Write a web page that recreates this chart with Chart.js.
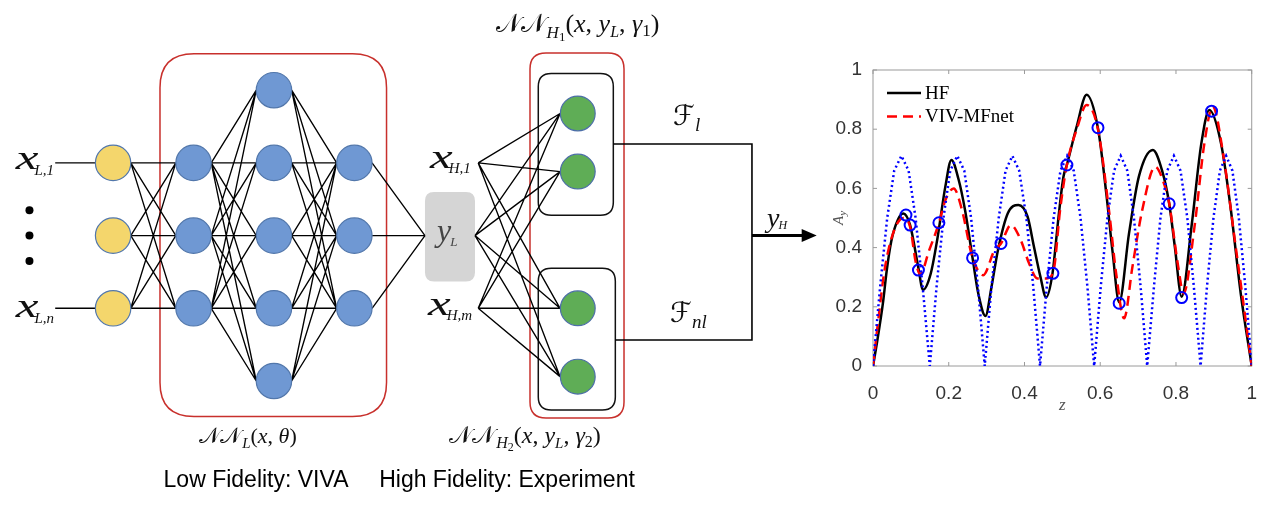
<!DOCTYPE html>
<html>
<head>
<meta charset="utf-8">
<script src="https://cdn.jsdelivr.net/npm/chart.js@4.4.1/dist/chart.umd.min.js"></script>
<style>
  html, body { margin: 0; padding: 0; background: #fff; }
  #wrap { position: relative; width: 1265px; height: 509px; overflow: hidden; }
  #net { position: absolute; left: 0; top: 0; }
  #amp { position: absolute; left: 820px; top: 0; }
</style>
</head>
<body>
<div id="wrap">
  <canvas id="net" width="820" height="509"></canvas>
  <canvas id="amp" width="445" height="509"></canvas>
</div>
<script>
// --- amplitude chart data ---
const zTicks = [0, 0.2, 0.4, 0.6, 0.8, 1];
const aTicks = [0, 0.2, 0.4, 0.6, 0.8, 1];

// HF (experiment)
const hfZ = [0, 0.010, 0.027, 0.036, 0.048, 0.066, 0.080, 0.098, 0.120, 0.132,
  0.152, 0.170, 0.191, 0.207, 0.226, 0.243, 0.263, 0.278, 0.297, 0.313,
  0.330, 0.356, 0.384, 0.408, 0.425, 0.442, 0.457, 0.474, 0.490, 0.503,
  0.512, 0.538, 0.564, 0.594, 0.616, 0.633, 0.650, 0.676, 0.702, 0.739,
  0.763, 0.782, 0.797, 0.815, 0.841, 0.867, 0.888, 0.919, 0.945, 0.971, 1.000];
const hfA = [0, 0.075, 0.22, 0.32, 0.42, 0.495, 0.515, 0.476, 0.33, 0.257,
  0.31, 0.43, 0.606, 0.696, 0.63, 0.527, 0.364, 0.245, 0.169, 0.268,
  0.392, 0.516, 0.544, 0.505, 0.403, 0.302, 0.232, 0.313, 0.505, 0.64,
  0.68, 0.81, 0.916, 0.803, 0.583, 0.381, 0.215, 0.448, 0.64, 0.73,
  0.662, 0.55, 0.403, 0.234, 0.471, 0.752, 0.865, 0.752, 0.527, 0.245, 0];

// VIV-MFnet prediction
const mfZ = [0, 0.014, 0.030, 0.053, 0.080, 0.098, 0.113, 0.125, 0.148, 0.174,
  0.191, 0.213, 0.235, 0.262, 0.291, 0.321, 0.338, 0.364, 0.390, 0.412,
  0.434, 0.459, 0.477, 0.494, 0.512, 0.538, 0.564, 0.594, 0.624, 0.642,
  0.663, 0.685, 0.711, 0.745, 0.771, 0.782, 0.806, 0.820, 0.849, 0.875,
  0.897, 0.927, 0.953, 0.984, 1.000];
const mfA = [0, 0.155, 0.32, 0.448, 0.50, 0.47, 0.35, 0.31, 0.39, 0.482,
  0.56, 0.60, 0.527, 0.37, 0.307, 0.392, 0.414, 0.476, 0.426, 0.347,
  0.296, 0.296, 0.324, 0.527, 0.68, 0.80, 0.882, 0.80, 0.516, 0.313,
  0.161, 0.335, 0.527, 0.673, 0.606, 0.55, 0.335, 0.245, 0.471, 0.752,
  0.876, 0.696, 0.448, 0.155, 0];

// low fidelity (VIVA) dotted curve
const lfZ = [0, 0.019, 0.0375, 0.056, 0.075, 0.094, 0.1125, 0.131, 0.150,
  0.168, 0.186, 0.204, 0.2225, 0.241, 0.259, 0.277, 0.295,
  0.313, 0.332, 0.350, 0.368, 0.386, 0.405, 0.423, 0.441,
  0.459, 0.477, 0.495, 0.5125, 0.530, 0.548, 0.566, 0.584,
  0.6015, 0.619, 0.6365, 0.654, 0.6715, 0.689, 0.7065, 0.724,
  0.742, 0.759, 0.777, 0.7945, 0.812, 0.830, 0.847, 0.865,
  0.882, 0.899, 0.916, 0.9325, 0.949, 0.966, 0.983, 1.000];
const lfA = [0, 0.27, 0.50, 0.66, 0.71, 0.66, 0.50, 0.27, 0,
  0.27, 0.50, 0.66, 0.71, 0.66, 0.50, 0.27, 0,
  0.27, 0.50, 0.66, 0.71, 0.66, 0.50, 0.27, 0,
  0.27, 0.50, 0.66, 0.71, 0.66, 0.50, 0.27, 0,
  0.27, 0.50, 0.66, 0.71, 0.66, 0.50, 0.27, 0,
  0.27, 0.50, 0.66, 0.71, 0.66, 0.50, 0.27, 0,
  0.27, 0.50, 0.66, 0.71, 0.66, 0.50, 0.27, 0];

// measurement points (circles)
const markZ = [0.087, 0.098, 0.120, 0.174, 0.263, 0.338, 0.475, 0.512, 0.594, 0.650, 0.782, 0.815, 0.894];
const markA = [0.510, 0.476, 0.324, 0.484, 0.365, 0.414, 0.313, 0.679, 0.805, 0.212, 0.548, 0.231, 0.861];

// --- network diagram structure (column = layer, row = node slot) ---
const lowLayers = [
  { col: 0, rows: [-1, 0, 1], fill: '#f4d66c' },
  { col: 1, rows: [-1, 0, 1], fill: '#6f98d3' },
  { col: 2, rows: [-2, -1, 0, 1, 2], fill: '#6f98d3' },
  { col: 3, rows: [-1, 0, 1], fill: '#6f98d3' }
];
const hfInputRows = [-1, 0, 1];
const hfNodeRows = [-1.68, -0.88, 1.0, 1.94];
const dotRows = [-0.35, 0, 0.35];

// placement of the diagram pieces, in the same col/row units
const net = {
  inputStart: -0.72, dotCol: -1.04, half: 0.22,
  yLIn: 3.878, hfIn: 4.54, yLOut: 4.5, hfCol: 5.778,
  lowBox: [0.583, -2.5, 3.40, 2.49],
  yLBox: [3.878, -0.60, 4.5, 0.63],
  hfBox: [5.184, -2.51, 6.353, 2.51],
  topBox: [5.287, -2.23, 6.22, -0.28],
  botBox: [5.287, 0.45, 6.245, 2.40],
  fRows: [-1.26, 1.436], joinCol: 7.944, arrowTip: 8.749
};

const SERIF = '"Liberation Serif", "DejaVu Serif", serif';
const MATH = '"DejaVu Serif", "DejaVu Sans", serif';
const SANS = '"Liberation Sans", Arial, sans-serif';

function pairs(xs, ys) {
  return xs.map((x, i) => ({ x: x, y: ys[i] }));
}

const GAP = { x: null, y: null };

// fully connected edges between two sets of points
function connect(from, to, out) {
  from.forEach(a => to.forEach(b => { out.push(a, b, GAP); }));
  return out;
}

function roundRect(ctx, x0, y0, x1, y1, r) {
  ctx.beginPath();
  ctx.moveTo(x0 + r, y0);
  ctx.lineTo(x1 - r, y0);
  ctx.quadraticCurveTo(x1, y0, x1, y0 + r);
  ctx.lineTo(x1, y1 - r);
  ctx.quadraticCurveTo(x1, y1, x1 - r, y1);
  ctx.lineTo(x0 + r, y1);
  ctx.quadraticCurveTo(x0, y1, x0, y1 - r);
  ctx.lineTo(x0, y0 + r);
  ctx.quadraticCurveTo(x0, y0, x0 + r, y0);
  ctx.closePath();
}

// text made of pieces (for sub-scripts)
function drawRich(ctx, x, y, parts, align) {
  let total = 0;
  const ws = parts.map(p => {
    ctx.font = p.f;
    const w = ctx.measureText(p.t).width * (p.sx || 1) + (p.kern || 0);
    total += w;
    return w;
  });
  let cx = align === 'center' ? x - total / 2 : align === 'right' ? x - total : x;
  ctx.textAlign = 'left';
  ctx.textBaseline = 'alphabetic';
  parts.forEach((p, i) => {
    ctx.font = p.f;
    ctx.save();
    ctx.translate(cx, y + (p.dy || 0));
    ctx.scale(p.sx || 1, 1);
    ctx.fillText(p.t, 0, 0);
    ctx.restore();
    cx += ws[i];
  });
}

// ---------- diagram ----------
const h = net.half;
const edges = [];
for (let i = 0; i < lowLayers.length - 1; i++) {
  const a = lowLayers[i].rows.map(r => ({ x: lowLayers[i].col + h, y: r }));
  const b = lowLayers[i + 1].rows.map(r => ({ x: lowLayers[i + 1].col - h, y: r }));
  connect(a, b, edges);
}
connect(lowLayers[3].rows.map(r => ({ x: 3 + h, y: r })), [{ x: net.yLIn, y: 0 }], edges);
[-1, 1].forEach(r => edges.push({ x: net.inputStart, y: r }, { x: -h, y: r }, GAP));
connect(hfInputRows.map(r => ({ x: r === 0 ? net.yLOut : net.hfIn, y: r })),
  hfNodeRows.map(r => ({ x: net.hfCol - h, y: r })), edges);

const connector = [
  { x: net.topBox[2], y: net.fRows[0] }, { x: net.joinCol, y: net.fRows[0] },
  { x: net.joinCol, y: net.fRows[1] }, { x: net.botBox[2], y: net.fRows[1] }
];

const nodeSets = lowLayers.map(l => ({
  data: l.rows.map(r => ({ x: l.col, y: r })),
  pointRadius: 17.7, pointBackgroundColor: l.fill,
  pointBorderColor: '#5277ab', pointBorderWidth: 1.2, order: 0
}));
nodeSets.push({
  data: hfNodeRows.map(r => ({ x: net.hfCol, y: r })),
  pointRadius: 17.4, pointBackgroundColor: '#5fad56',
  pointBorderColor: '#4d6fa8', pointBorderWidth: 1.2, order: 0
});
nodeSets.push({
  data: dotRows.map(r => ({ x: net.dotCol, y: r })),
  pointRadius: 4, pointBackgroundColor: '#000', pointBorderWidth: 0, order: 0
});

const netDecor = {
  id: 'netDecor',
  beforeDatasetsDraw(chart) {
    const { ctx, scales: { x, y } } = chart;
    const box = (b, r) => roundRect(ctx, x.getPixelForValue(b[0]), y.getPixelForValue(b[1]),
      x.getPixelForValue(b[2]), y.getPixelForValue(b[3]), r);
    ctx.save();
    box(net.yLBox, 9);
    ctx.fillStyle = '#d5d5d5';
    ctx.fill();
    ctx.strokeStyle = '#c8302c';
    ctx.lineWidth = 1.5;
    box(net.lowBox, 34); ctx.stroke();
    box(net.hfBox, 16); ctx.stroke();
    ctx.strokeStyle = '#111';
    box(net.topBox, 13); ctx.stroke();
    box(net.botBox, 13); ctx.stroke();
    ctx.restore();
  },
  afterDatasetsDraw(chart) {
    const { ctx, scales: { x, y } } = chart;
    const px = c => x.getPixelForValue(c);
    const py = r => y.getPixelForValue(r);
    ctx.save();
    // output arrow
    const ax0 = px(net.joinCol), ax1 = px(net.arrowTip), ay = py(0);
    ctx.strokeStyle = '#000';
    ctx.lineWidth = 3;
    ctx.beginPath();
    ctx.moveTo(ax0, ay);
    ctx.lineTo(ax1 - 10, ay);
    ctx.stroke();
    ctx.fillStyle = '#000';
    ctx.beginPath();
    ctx.moveTo(ax1, ay);
    ctx.lineTo(ax1 - 15, ay - 6.5);
    ctx.lineTo(ax1 - 15, ay + 6.5);
    ctx.closePath();
    ctx.fill();

    const xi = s => 'italic ' + s + 'px ' + SERIF;
    const rm = s => s + 'px ' + SERIF;
    const bigX = { t: 'x', f: xi(33), sx: 1.55, kern: -4 };
    ctx.fillStyle = '#111';
    drawRich(ctx, px(-0.735), py(-0.916), [bigX, { t: 'L,1', f: xi(15), dy: 6 }], 'right');
    drawRich(ctx, px(-0.735), py(1.12), [bigX, { t: 'L,n', f: xi(15), dy: 6 }], 'right');
    drawRich(ctx, px(3.94), py(-0.93), [bigX, { t: 'H,1', f: xi(15), dy: 5 }], 'left');
    drawRich(ctx, px(3.915), py(1.092), [bigX, { t: 'H,m', f: xi(15), dy: 5 }], 'left');
    ctx.fillStyle = '#444';
    drawRich(ctx, px(4.028), py(0.074), [{ t: 'y', f: xi(32), kern: -1 }, { t: 'L', f: xi(13), dy: 5 }], 'left');
    ctx.fillStyle = '#111';
    drawRich(ctx, px(8.131), py(-0.118), [{ t: 'y', f: xi(28), kern: -1 }, { t: 'H', f: xi(12), dy: 2 }], 'left');
    drawRich(ctx, px(6.962), py(-1.521), [{ t: 'ℱ', f: '28px ' + MATH }, { t: 'l', f: xi(19), dy: 6 }], 'left');
    drawRich(ctx, px(6.925), py(1.188), [{ t: 'ℱ', f: '28px ' + MATH }, { t: 'nl', f: xi(19), dy: 6 }], 'left');

    const nn = s => ({ t: '𝒩𝒩', f: s + 'px ' + MATH, kern: 1 });
    drawRich(ctx, px(5.775), py(-2.801), [nn(26), { t: 'H', f: xi(17), dy: 6 }, { t: '1', f: rm(13), dy: 9 },
      { t: '(', f: rm(26) }, { t: 'x', f: xi(26) }, { t: ', ', f: rm(26) }, { t: 'y', f: xi(26) },
      { t: 'L', f: xi(16), dy: 5 }, { t: ', ', f: rm(26) }, { t: 'γ', f: xi(26) }, { t: '1', f: rm(17), dy: 4 },
      { t: ')', f: rm(26) }], 'center');
    drawRich(ctx, px(1.677), py(2.853), [nn(22), { t: 'L', f: xi(15), dy: 5 },
      { t: '(', f: rm(22) }, { t: 'x', f: xi(22) }, { t: ', ', f: rm(22) }, { t: 'θ', f: xi(22) },
      { t: ')', f: rm(22) }], 'center');
    drawRich(ctx, px(5.122), py(2.853), [nn(24), { t: 'H', f: xi(16), dy: 5 }, { t: '2', f: rm(12), dy: 8 },
      { t: '(', f: rm(24) }, { t: 'x', f: xi(24) }, { t: ', ', f: rm(24) }, { t: 'y', f: xi(24) },
      { t: 'L', f: xi(15), dy: 5 }, { t: ', ', f: rm(24) }, { t: 'γ', f: xi(24) }, { t: '2', f: rm(16), dy: 4 },
      { t: ')', f: rm(24) }], 'center');
    ctx.fillStyle = '#000';
    drawRich(ctx, px(1.777), py(3.458), [{ t: 'Low Fidelity: VIVA', f: '23px ' + SANS }], 'center');
    drawRich(ctx, px(4.898), py(3.458), [{ t: 'High Fidelity: Experiment', f: '23px ' + SANS }], 'center');
    ctx.restore();
  }
};

new Chart(document.getElementById('net'), {
  type: 'scatter',
  data: {
    datasets: [
      { data: edges, showLine: true, spanGaps: false, borderColor: '#000', borderWidth: 1.35, pointRadius: 0, order: 10 },
      { data: connector, showLine: true, borderColor: '#000', borderWidth: 1.6, pointRadius: 0, order: 9 }
    ].concat(nodeSets)
  },
  options: {
    responsive: false,
    animation: false,
    events: [],
    layout: { padding: 0, autoPadding: false },
    plugins: { legend: { display: false }, tooltip: { enabled: false } },
    scales: {
      x: { type: 'linear', display: false, min: -1.4064, max: 8.790 },
      y: { type: 'linear', display: false, min: -3.2407, max: 3.7607, reverse: true }
    }
  },
  plugins: [netDecor]
});

// ---------- amplitude chart ----------
const axisBox = {
  id: 'axisBox',
  beforeDatasetsDraw(chart) {
    const { ctx, chartArea: a, scales: { x, y } } = chart;
    ctx.save();
    ctx.strokeStyle = '#9a9a9a';
    ctx.lineWidth = 1;
    ctx.strokeRect(a.left, a.top, a.right - a.left, a.bottom - a.top);
    ctx.beginPath();
    zTicks.forEach(v => {
      const p = x.getPixelForValue(v);
      ctx.moveTo(p, a.bottom); ctx.lineTo(p, a.bottom - 4);
      ctx.moveTo(p, a.top); ctx.lineTo(p, a.top + 4);
    });
    aTicks.forEach(v => {
      const p = y.getPixelForValue(v);
      ctx.moveTo(a.left, p); ctx.lineTo(a.left + 4, p);
      ctx.moveTo(a.right, p); ctx.lineTo(a.right - 4, p);
    });
    ctx.stroke();
    ctx.restore();
  },
  afterDatasetsDraw(chart) {
    const { ctx, chartArea: a } = chart;
    ctx.save();
    // legend (top-left, inside the axes)
    const items = chart.data.datasets.filter(d => d.label === 'HF' || d.label === 'VIV-MFnet');
    items.forEach((d, i) => {
      const ly = a.top + 23 + i * 23.5;
      ctx.strokeStyle = d.borderColor;
      ctx.lineWidth = d.borderWidth;
      ctx.setLineDash(d.borderDash || []);
      ctx.beginPath();
      ctx.moveTo(a.left + 14, ly);
      ctx.lineTo(a.left + 48, ly);
      ctx.stroke();
      ctx.setLineDash([]);
      ctx.fillStyle = '#000';
      ctx.font = '19px ' + SERIF;
      ctx.textAlign = 'left';
      ctx.textBaseline = 'middle';
      ctx.fillText(d.label, a.left + 52, ly + 1);
    });
    // axis titles
    ctx.fillStyle = '#555';
    ctx.textAlign = 'center';
    ctx.textBaseline = 'middle';
    ctx.font = 'italic 17px ' + SERIF;
    ctx.fillText('z', (a.left + a.right) / 2, a.bottom + 40);
    ctx.translate(a.left - 35, (a.top + a.bottom) / 2);
    ctx.rotate(-Math.PI / 2);
    drawRich(ctx, 0, 5, [{ t: 'A', f: 'italic 15px ' + SERIF }, { t: 'y', f: 'italic 11px ' + SERIF, dy: 3 }], 'center');
    ctx.restore();
  }
};

new Chart(document.getElementById('amp'), {
  type: 'scatter',
  data: {
    datasets: [
      { label: 'HF', data: pairs(hfZ, hfA), showLine: true, borderColor: '#000', borderWidth: 2.5,
        pointRadius: 0, cubicInterpolationMode: 'monotone', order: 3 },
      { label: 'VIV-MFnet', data: pairs(mfZ, mfA), showLine: true, borderColor: '#ff0000', borderWidth: 2.5,
        borderDash: [10, 6], pointRadius: 0, cubicInterpolationMode: 'monotone', order: 2 },
      { label: 'VIVA', data: pairs(lfZ, lfA), showLine: true, borderColor: '#0000ff', borderWidth: 2.5,
        borderDash: [2, 3], pointRadius: 0, tension: 0, order: 1 },
      { label: 'Measured', data: pairs(markZ, markA), showLine: false, pointRadius: 5.5,
        borderColor: '#0000ff', backgroundColor: 'rgba(0,0,0,0)', pointBorderWidth: 2, order: 0 }
    ]
  },
  options: {
    responsive: false,
    animation: false,
    events: [],
    layout: { padding: { top: 70, right: 7, bottom: 0, left: 0 }, autoPadding: false },
    plugins: { legend: { display: false }, tooltip: { enabled: false } },
    scales: {
      x: {
        type: 'linear', min: 0, max: 1,
        afterBuildTicks: s => { s.ticks = zTicks.map(v => ({ value: v })); },
        afterFit: s => { s.height = 143; },
        grid: { display: false }, border: { display: false },
        ticks: { font: { family: SANS, size: 19 }, color: '#333', padding: 8, maxRotation: 0,
          callback: v => String(Number(v.toFixed(1))) }
      },
      y: {
        type: 'linear', min: 0, max: 1,
        afterBuildTicks: s => { s.ticks = aTicks.map(v => ({ value: v })); },
        afterFit: s => { s.width = 53; },
        grid: { display: false }, border: { display: false },
        ticks: { font: { family: SANS, size: 19 }, color: '#333', padding: 3,
          callback: v => String(Number(v.toFixed(1))) }
      }
    }
  },
  plugins: [axisBox]
});
</script>
</body>
</html>
